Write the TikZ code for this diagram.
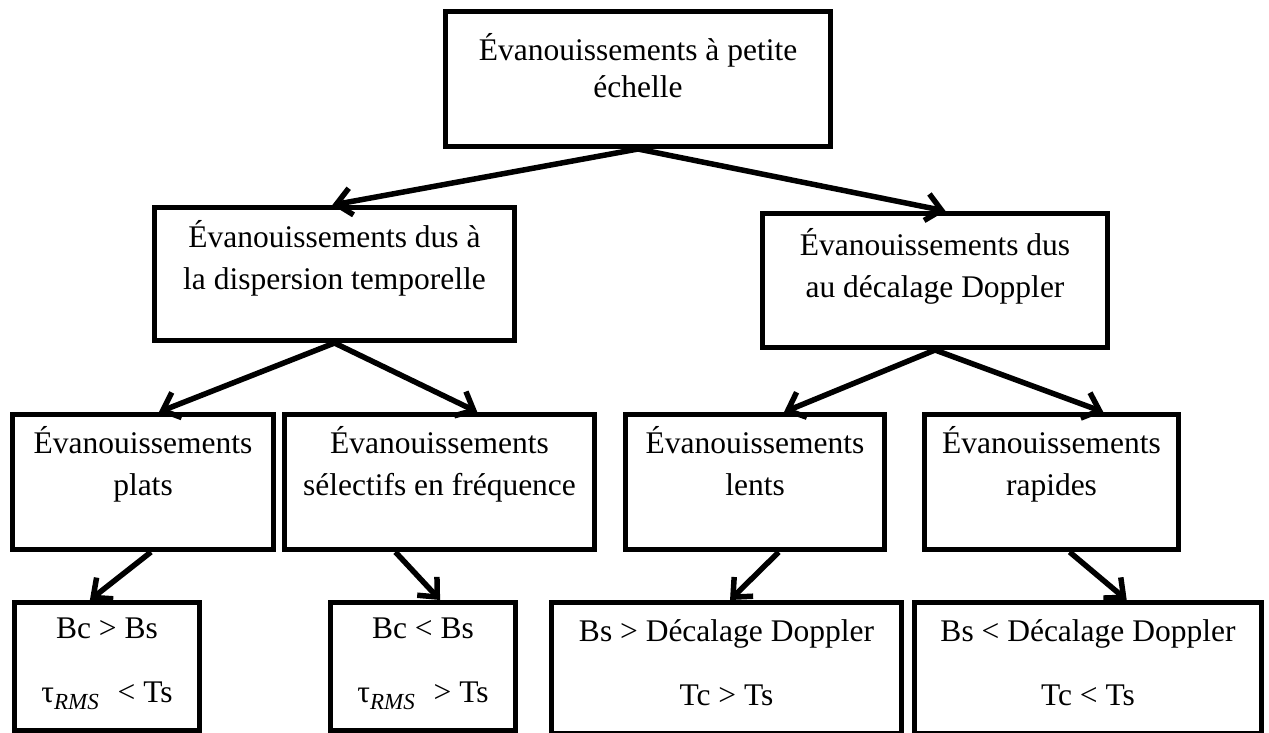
\documentclass[tikz,border=0pt]{standalone}
\usepackage{fontspec}
\setmainfont{Liberation Serif}
\usetikzlibrary{arrows.meta,calc}
\begin{document}
\begin{tikzpicture}[x=1pt,y=-1pt,
  box/.style={draw=black, line width=5pt, fill=white, rectangle, inner sep=0pt, anchor=north west},
  lbl/.style={anchor=north, inner sep=0pt, align=center},
  f37/.style={font=\fontsize{31.5}{37}\selectfont},
  f42/.style={font=\fontsize{31.5}{42}\selectfont},
  f64/.style={font=\fontsize{31.5}{64}\selectfont},
  link/.style={line width=5.5pt, -{Straight Barb[length=15pt,width=27pt,line width=5.5pt]}}
]
\useasboundingbox (0,0) rectangle (1269,732);
\fill[white] (0,0) rectangle (1269,732);

% boxes
\node[box, minimum width=385pt, minimum height=135pt] (top) at (443,9) {};
\node[box, minimum width=360pt, minimum height=133pt] (disp) at (152,205) {};
\node[box, minimum width=345pt, minimum height=134pt] (dopp) at (760,211) {};
\node[box, minimum width=261pt, minimum height=135pt] (plat) at (10,412) {};
\node[box, minimum width=310pt, minimum height=135pt] (sel) at (282,412) {};
\node[box, minimum width=259pt, minimum height=135pt] (lent) at (623,412) {};
\node[box, minimum width=254pt, minimum height=135pt] (rap) at (922,412) {};
\node[box, minimum width=185pt, minimum height=128pt] (cplat) at (12,600) {};
\node[box, minimum width=185pt, minimum height=128pt] (csel) at (328,600) {};
\node[box, minimum width=350pt, minimum height=131pt] (clent) at (549,600) {};
\node[box, minimum width=347pt, minimum height=131pt] (crap) at (912,600) {};

% texts
\node[lbl, f37] (ttop) at ($(top.north)+(0,24)$) {Évanouissements à petite\\échelle};
\node[lbl, f42] (tdisp) at ($(disp.north)+(0,15)$) {Évanouissements dus à\\la dispersion temporelle};
\node[lbl, f42] (tdopp) at ($(dopp.north)+(0,17)$) {Évanouissements dus\\au décalage Doppler};
\node[lbl, f42] (tplat) at ($(plat.north)+(0,14)$) {Évanouissements\\plats};
\node[lbl, f42] (tsel) at ($(sel.north)+(0,14)$) {Évanouissements\\sélectifs en fréquence};
\node[lbl, f42] (tlent) at ($(lent.north)+(0,14)$) {Évanouissements\\lents};
\node[lbl, f42] (trap) at ($(rap.north)+(0,14)$) {Évanouissements\\rapides};
\newcommand\taurms{τ\raisebox{-0.22em}{\fontsize{23}{23}\selectfont\itshape RMS}}
\node[lbl, f64] (tcplat) at ($(cplat.north)+(0,18)$) {Bc > Bs\\\taurms\hspace{0.6em}< Ts};
\node[lbl, f64] (tcsel) at ($(csel.north)+(0,18)$) {Bc < Bs\\\taurms\hspace{0.6em}> Ts};
\node[lbl, f64] (tclent) at ($(clent.north)+(0,19)$) {Bs > Décalage Doppler\\Tc > Ts};
\node[lbl, f64] (tcrap) at ($(crap.north)+(0,19)$) {Bs < Décalage Doppler\\Tc < Ts};

% connectors
\draw[link] (top.south) -- ($(disp.north west)!0.494!(disp.north east)$);
\draw[link] (top.south) -- ($(dopp.north west)!0.53!(dopp.north east)$);
\draw[link] (disp.south) -- ($(plat.north west)!0.56!(plat.north east)$);
\draw[link] (disp.south) -- ($(sel.north west)!0.62!(sel.north east)$);
\draw[link] (dopp.south) -- ($(lent.north west)!0.61!(lent.north east)$);
\draw[link] (dopp.south) -- ($(rap.north west)!0.70!(rap.north east)$);
\draw[link] ($(plat.south west)!0.53!(plat.south east)$) -- ($(cplat.north west)!0.41!(cplat.north east)$);
\draw[link] ($(sel.south west)!0.36!(sel.south east)$) -- ($(csel.north west)!0.59!(csel.north east)$);
\draw[link] ($(lent.south west)!0.59!(lent.south east)$) -- ($(clent.north west)!0.51!(clent.north east)$);
\draw[link] ($(rap.south west)!0.57!(rap.south east)$) -- ($(crap.north west)!0.61!(crap.north east)$);
\end{tikzpicture}
\end{document}
